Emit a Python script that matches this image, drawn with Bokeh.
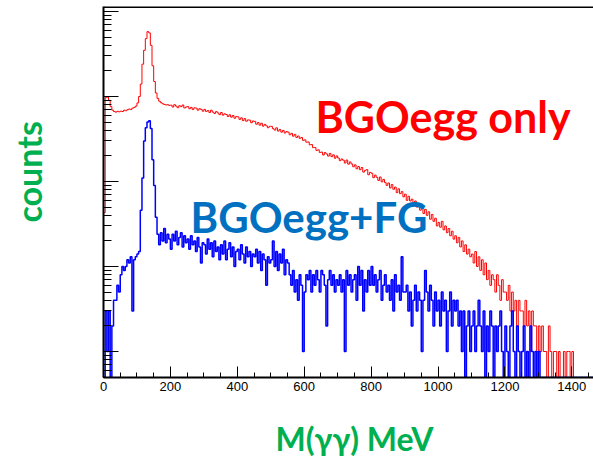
import math
from bokeh.plotting import figure
from bokeh.models import FixedTicker, Label, Span, Title
from bokeh.embed import file_html
from bokeh.resources import INLINE

# ---------------- data (5 MeV bins, 0 - 1500 MeV) ----------------
bin_width = 5
red_counts = [
    43, 970, 990, 900, 760, 690, 665, 655, 670, 660,
    672, 665, 690, 680, 700, 712, 705, 730, 745, 770,
    840, 1000, 1400, 2400, 3500, 4800, 5800, 5600, 4000, 2300,
    1500, 1100, 950, 880, 845, 822, 806, 795, 801, 786,
    790, 752, 801, 771, 738, 779, 760, 795, 733, 752,
    761, 718, 745, 702, 736, 729, 690, 718, 705, 672,
    705, 668, 683, 649, 690, 655, 632, 664, 641, 612,
    648, 603, 626, 614, 582, 609, 571, 598, 555, 580,
    575, 538, 561, 520, 549, 512, 530, 527, 491, 515,
    510, 472, 494, 460, 485, 448, 470, 452, 429, 446,
    445, 418, 403, 428, 392, 410, 381, 399, 372, 386,
    380, 355, 369, 341, 358, 330, 343, 322, 330, 305,
    309, 290, 292, 270, 272, 250, 251, 232, 236, 220,
    222, 205, 219, 211, 199, 214, 196, 206, 188, 200,
    189, 176, 184, 178, 165, 179, 160, 170, 161, 149,
    157, 141, 150, 138, 146, 129, 135, 138, 120, 128,
    125, 111, 119, 112, 103, 113, 99, 106, 97, 90,
    96, 84, 92, 81, 86, 74, 82, 72, 76, 66,
    71, 60, 67, 59, 62, 53, 59, 50, 55, 46,
    51, 42, 47, 40, 44, 36, 41, 34, 37, 30,
    33, 29, 34, 27, 30, 25, 28, 23, 26, 21,
    23, 19, 22, 17, 20, 15, 18, 14, 16, 13,
    14, 11, 15, 10, 13, 9, 12, 8, 11, 7,
    9, 6, 8, 7, 5, 8, 6, 4, 7, 5,
    5, 4, 6, 3, 5, 3, 4, 2, 4, 3,
    3, 2, 4, 2, 3, 1, 3, 2, 2, 1,
    2, 1, 2, 1, 1, 0, 2, 1, 0, 1,
    1, 0, 1, 0, 0, 1, 0, 1, 1, 0,
    1, 0, 0, 0, 0, 0, 0, 0, 0, 0,
    0, 0, 0, 0, 0, 0, 0, 0, 0, 0,
]
blue_counts = [
    0, 3, 1, 3, 0, 2, 4, 4, 6, 5,
    8, 10, 9, 10, 12, 11, 13, 3, 12, 13,
    14, 15, 46, 110, 300, 430, 500, 520, 420, 180,
    90, 38, 24, 18, 25, 20, 28, 19, 24, 21,
    16, 24, 20, 26, 18, 22, 25, 17, 23, 19,
    21, 16, 23, 18, 20, 15, 22, 17, 11, 19,
    18, 14, 21, 16, 19, 13, 20, 15, 17, 12,
    18, 14, 20, 12, 16, 19, 13, 17, 10, 15,
    16, 12, 18, 14, 11, 17, 13, 15, 10, 14,
    13, 16, 11, 15, 9, 14, 12, 6, 13, 11,
    12, 20, 10, 15, 9, 14, 11, 16, 8, 12,
    11, 8, 6, 9, 5, 7, 4, 8, 6, 1,
    5, 8, 7, 9, 5, 8, 6, 9, 7, 5,
    9, 8, 6, 2, 7, 9, 6, 8, 5, 7,
    6, 8, 5, 7, 1, 9, 6, 8, 5, 7,
    8, 4, 10, 6, 9, 3, 7, 5, 9, 6,
    10, 6, 8, 5, 7, 9, 4, 6, 8, 5,
    6, 4, 7, 3, 8, 5, 6, 4, 13, 5,
    5, 6, 3, 5, 2, 4, 6, 3, 5, 4,
    1, 4, 9, 5, 3, 6, 4, 2, 5, 3,
    4, 2, 5, 3, 4, 1, 3, 5, 2, 4,
    3, 4, 2, 3, 1, 3, 0, 2, 3, 1,
    2, 3, 1, 2, 4, 2, 1, 3, 0, 2,
    1, 3, 2, 0, 2, 1, 2, 3, 1, 0,
    2, 1, 0, 2, 3, 1, 0, 2, 1, 0,
    1, 2, 0, 1, 0, 2, 1, 0, 1, 0,
    1, 0, 0, 0, 0, 0, 0, 0, 0, 0,
    0, 0, 0, 0, 0, 0, 0, 0, 0, 0,
    0, 0, 0, 0, 0, 0, 0, 0, 0, 0,
    0, 0, 0, 0, 0, 0, 0, 0, 0, 0,
]
x_tick_values = [0, 200, 400, 600, 800, 1000, 1200, 1400]
y_decades = [1, 10, 100, 1000, 10000]

label_red = "BGOegg only"
label_blue = "BGOegg+FG"
label_x = "M(\u03b3\u03b3) MeV"
label_y = "counts"

# ---------------- layout ----------------
W, H = 593, 463
border_left, border_bottom, border_top = 103, 86, 6
frame_w = W - border_left
frame_h = H - border_bottom - border_top
px_per_unit = 0.3345
decade_px = 85.0
one_above_bottom_px = 26.0

x_start, x_end = 0, frame_w / px_per_unit
y_start = 10 ** (-one_above_bottom_px / decade_px)
y_end = 10 ** ((frame_h - one_above_bottom_px) / decade_px)

frame_left_pg = border_left
frame_bottom_pg = border_top + frame_h


def dx(px):
    return (px - frame_left_pg) / px_per_unit


def dy(py):
    return 10 ** ((frame_bottom_pg - one_above_bottom_px - py) / decade_px)


p = figure(width=W, height=H, output_backend="svg", toolbar_location=None,
           y_axis_type="log", x_range=(x_start, x_end), y_range=(y_start, y_end),
           min_border_left=border_left, min_border_bottom=border_bottom,
           min_border_top=border_top, min_border_right=0)
p.outline_line_color = None
p.xgrid.grid_line_color = None
p.ygrid.grid_line_color = None
p.background_fill_color = "white"
p.border_fill_color = "white"


def step_arrays(counts):
    xs = [i * bin_width for i in range(len(counts) + 1)]
    ys = [c if c > 0 else y_start for c in counts]
    ys = ys + [ys[-1]]
    return xs, ys


rx, ry = step_arrays(red_counts)
bx, by = step_arrays(blue_counts)
p.step(rx, ry, mode="after", line_color="#ff0000", line_width=1)
p.step(bx, by, mode="after", line_color="#0000ff", line_width=1.5)

# axes
p.xaxis.ticker = FixedTicker(ticks=x_tick_values,
                             minor_ticks=list(range(0, 1501, 50)))
p.xaxis.major_tick_in = 11
p.xaxis.major_tick_out = 0
p.xaxis.minor_tick_in = 5
p.xaxis.minor_tick_out = 0
p.xaxis.axis_line_width = 2
p.xaxis.major_label_text_font = "Liberation Sans"
p.xaxis.major_label_text_font_size = "13px"
p.xaxis.major_label_standoff = 4
p.xaxis.major_label_text_color = "black"

minor_y = [k * d / 10 for d in y_decades for k in range(2, 10)] + [k * 10000 for k in range(2, 10)]
p.yaxis.ticker = FixedTicker(ticks=y_decades, minor_ticks=minor_y)
p.yaxis.major_tick_in = 15
p.yaxis.major_tick_out = 0
p.yaxis.minor_tick_in = 8
p.yaxis.minor_tick_out = 0
p.yaxis.axis_line_width = 2
p.yaxis.major_label_text_color = None
p.yaxis.major_label_text_font_size = "10px"
p.yaxis.major_label_standoff = 0

# top frame line
top_line = Span(location=10 ** (math.log10(y_end) - 0.5 / decade_px),
                dimension="width", line_color="black", line_width=2)
p.add_layout(top_line)

font = "Lato"
p.add_layout(Label(x=dx(315), y=dy(116), text=label_red, text_font=font,
                   text_font_style="bold", text_font_size="43px",
                   text_color="#ff0000", text_align="left",
                   text_baseline="alphabetic"))
p.add_layout(Label(x=dx(190), y=dy(216), text=label_blue, text_font=font,
                   text_font_style="bold", text_font_size="42px",
                   text_color="#0070c0", text_align="left",
                   text_baseline="alphabetic"))

# spacers between the axes and the axis titles
p.add_layout(Title(text=" ", standoff=18, text_font_size="1px"), "below")
p.add_layout(Title(text=label_x, align="left", offset=275 - frame_left_pg,
                   vertical_align="bottom", standoff=4,
                   text_font=font, text_font_style="bold",
                   text_font_size="32px", text_color="#00b050"), "below")
p.add_layout(Title(text=" ", standoff=49, text_font_size="1px"), "left")
p.add_layout(Title(text=label_y, align="left", offset=frame_bottom_pg - 222,
                   vertical_align="bottom", standoff=6,
                   text_font=font, text_font_style="bold",
                   text_font_size="34px", text_color="#00b050"), "left")

open("out.html", "w").write(file_html(p, INLINE))
